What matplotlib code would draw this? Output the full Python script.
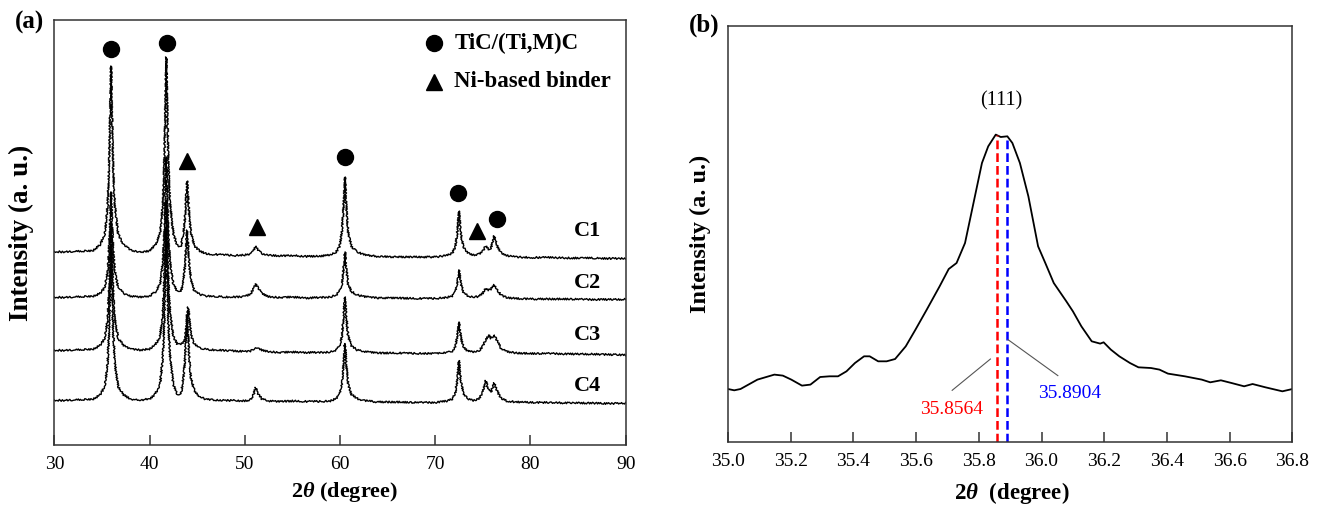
import matplotlib
matplotlib.use('Agg')
import matplotlib.pyplot as plt

plt.rcParams['font.family'] = 'Liberation Serif'
plt.rcParams['mathtext.fontset'] = 'custom'
plt.rcParams['mathtext.it'] = 'Liberation Serif:bold:italic'
plt.rcParams['mathtext.rm'] = 'Liberation Serif:bold'

# ---- panel (a): XRD patterns, shared 2theta grid
two_theta = [
    30, 31, 32, 33, 34,
    34.8, 35.3, 35.6, 35.74, 35.86, 35.96, 36.06, 36.18, 36.35, 36.7, 37.3,
    38, 39, 40,
    40.6, 41.1, 41.4, 41.54, 41.66, 41.76, 41.86, 41.98, 42.15, 42.5,
    42.9, 43.3, 43.55, 43.72, 43.84, 43.94, 44.06, 44.18, 44.35, 44.7, 45.3,
    46, 47, 48, 49, 50,
    50.6, 50.9, 51.15, 51.4, 51.8, 52.5,
    53.5, 55, 56.5, 58, 59,
    59.6, 59.95, 60.2, 60.38, 60.52, 60.66, 60.85, 61.2, 61.8, 62.5,
    64, 66, 68, 70,
    71.2, 71.8, 72.1, 72.3, 72.5, 72.7, 72.95, 73.4, 74,
    74.6, 75.0, 75.3, 75.6, 75.85, 76.2, 76.5, 76.9, 77.5,
    78.5, 80, 82, 84, 86, 88, 90,
]
c1 = [
    193.5, 193, 193.5, 194, 194,
    200, 211, 240, 277, 333, 379, 333, 277, 240, 211, 200,
    195, 193, 194,
    200, 211, 242, 281, 339, 388, 339, 281, 242, 211,
    200, 198, 212, 227, 247, 264, 247, 227, 212, 199, 194,
    191, 190.5, 190, 189.5, 190,
    191, 194, 199, 195, 191.5, 190,
    189, 189.5, 188.5, 189, 190,
    193, 198.5, 213, 240, 268, 240, 213, 198.5, 193, 190.5,
    188.5, 188, 188, 188,
    189.5, 192, 198, 211, 234, 211, 198, 192, 190,
    191, 194, 199, 195.5, 197, 209, 199, 192.5, 189.5,
    188, 187.5, 187.5, 187, 187, 186.5, 186.7,
]
c2 = [
    148, 147.5, 148, 148.5, 148.5,
    151.5, 157.5, 174, 195, 227, 253, 227, 195, 174, 157.5, 151.5,
    149, 148, 149,
    153, 160.5, 183, 211, 253, 288, 253, 211, 183, 160.5,
    154, 153, 165.5, 179, 199, 215, 199, 179, 165, 154, 150.5,
    149, 148.5, 148, 148, 148.5,
    151, 156, 161, 157, 151.5, 148.5,
    147.5, 148, 147, 147.5, 148,
    150, 153.5, 161, 177, 193, 177, 161, 153.5, 150, 148.5,
    147, 147, 146.5, 146.5,
    147.5, 149, 153, 161, 175, 161, 153, 149, 148,
    148.5, 152, 156.5, 155, 156, 160, 155, 150, 147.5,
    146.5, 146, 146, 146, 145.5, 145.5, 145.7,
]
c3 = [
    95, 94.5, 95, 95.5, 95.5,
    99.5, 106.5, 127, 152, 190, 222, 190, 152, 127, 106.5, 99.5,
    96, 95, 96,
    100, 108.5, 132.5, 162.5, 207.5, 245, 207.5, 162.5, 132.5, 108.5,
    101, 101, 103, 108, 115.5, 126.5, 138, 126.5, 110, 101, 97,
    95.5, 95, 94.5, 94, 93.5,
    94, 95.5, 96.5, 96.5, 95, 93.5,
    92.5, 93, 92.5, 92.5, 93,
    95, 99, 109, 128.5, 148, 128.5, 109, 99, 95, 93.5,
    92, 92, 91.5, 91.5,
    92.5, 94, 98.5, 107, 123, 107, 98.5, 94, 93,
    94, 99, 105, 110, 106.5, 110, 104, 97, 93.5,
    92, 91.5, 91.5, 91, 91, 90.5, 90,
]
c4 = [
    45, 44.5, 45, 45.5, 45.5,
    50, 58.5, 82.5, 112.5, 157.5, 195, 157.5, 112.5, 82.5, 58.5, 50,
    46, 45, 46,
    51, 60.5, 88.5, 121.5, 172.5, 215, 172.5, 121.5, 88.5, 60.5,
    51, 50.5, 67, 84.5, 109, 130, 109, 84.5, 67, 54.5, 48,
    45.5, 45, 44.5, 44.5, 44,
    45.5, 50, 57.5, 51, 46, 44,
    43.5, 44, 43.5, 43.5, 44,
    46.5, 50.5, 61, 81, 101.5, 81, 61, 50.5, 46.5, 44.5,
    43, 43, 42.5, 42.5,
    44, 46, 52, 63.5, 84.5, 63.5, 52, 46, 44.5,
    46, 53, 64.5, 55, 53, 62, 54, 47, 44,
    43, 42.5, 42.5, 42, 42, 41.5, 41.7,
]
sample_names = ['C1', 'C2', 'C3', 'C4']
label_y = [214, 162, 110, 59.5]

# phase markers above the peaks
tic_x = [35.95, 41.8, 60.53, 72.44, 76.45]
tic_y = [395.7, 402.5, 287.7, 252.3, 225.7]
ni_x = [43.97, 51.25, 74.42]
ni_y = [284.3, 217.7, 214]

# ---- panel (b): (111) peak
b_theta = [35.000, 35.020, 35.040, 35.094, 35.148, 35.175, 35.202, 35.236,
           35.263, 35.294, 35.324, 35.351, 35.378, 35.405, 35.434, 35.452,
           35.479, 35.506, 35.533, 35.567, 35.598, 35.634, 35.675, 35.704,
           35.729, 35.756, 35.783, 35.810, 35.830, 35.854, 35.870, 35.891,
           35.907, 35.931, 35.958, 35.989, 36.012, 36.039, 36.079, 36.100,
           36.127, 36.160, 36.187, 36.198, 36.221, 36.248, 36.282, 36.309,
           36.349, 36.376, 36.403, 36.457, 36.511, 36.538, 36.572, 36.606,
           36.646, 36.673, 36.714, 36.768, 36.800]
b_int = [53.3, 52, 53.3, 62.7, 67.7, 66.7, 62.7, 56.7,
         57.7, 65.3, 66, 66, 71, 79.3, 86, 86,
         81, 81, 83.3, 96, 112.7, 132.7, 156, 173.3,
         179.3, 199.3, 239.3, 279.3, 296, 307.7, 305.3, 306,
         299.3, 279.3, 246, 196, 179.3, 159.3, 141, 131,
         116, 101, 98.7, 100, 92.7, 86, 79.3, 75,
         74.3, 72.7, 68.7, 66, 62.7, 60, 62, 59.3,
         56, 58.3, 55, 51, 53.3]
peak_red = 35.8564
peak_blue = 35.8904

fig = plt.figure(figsize=(13.25, 5.08), dpi=100)
ax = fig.add_axes([0.0410, 0.1240, 0.4312, 0.8366])
ax2 = fig.add_axes([0.5494, 0.1293, 0.4260, 0.8195])

for a in (ax, ax2):
    for s in a.spines.values():
        s.set_color('#333333')
        s.set_linewidth(1.1)
    a.tick_params(axis='x', direction='in', length=7, width=1.1, color='#333333',
                  labelsize=14, pad=8)
    a.set_yticks([])

# (a)
for ys in (c1, c2, c3, c4):
    ln, = ax.plot(two_theta, ys, color='black', lw=1.0)
    ln.set_sketch_params(scale=0.9, length=2.5, randomness=2)
for name, yy in zip(sample_names, label_y):
    ax.text(85.94, yy, name, fontsize=16, fontweight='bold', ha='center', va='center')
ax.plot(tic_x, tic_y, 'o', color='black', ms=11.5, ls='none')
ax.plot(ni_x, ni_y, '^', color='black', ms=12, ls='none')
ax.plot([69.88], [401.7], 'o', color='black', ms=11.5)
ax.plot([69.88], [363.3], '^', color='black', ms=12)
ax.text(72.0, 401.7, 'TiC/(Ti,M)C', fontsize=16.5, fontweight='bold', va='center')
ax.text(72.0, 363.3, 'Ni-based binder', fontsize=16.5, fontweight='bold', va='center')
ax.set_xlim(30, 90)
ax.set_ylim(0, 425)
ax.set_xticks(range(30, 91, 10))
ax.set_xlabel(r'2$\theta$ (degree)', fontsize=16, fontweight='bold')
ax.xaxis.set_label_coords(0.508, -0.083)
ax.xaxis.label.set_va('top')
ax.set_ylabel('Intensity (a. u.)', fontsize=19.5, fontweight='bold')
ax.yaxis.set_label_coords(-0.036, 0.5)
fig.text(30 / 1325, 1 - 22 / 508, '(a)', fontsize=18, fontweight='bold',
         ha='center', va='center')

# (b)
ax2.plot(b_theta, b_int, color='black', lw=1.3)
ax2.plot([peak_red, peak_red], [0, 307.7], color='red', lw=1.8, ls=(0, (3.5, 1.6)))
ax2.plot([peak_blue, peak_blue], [0, 306], color='blue', lw=1.8, ls=(0, (3.5, 1.6)))
ax2.plot([35.837, 35.715], [83.3, 52], color='#555555', lw=0.8)
ax2.plot([35.893, 36.052], [102.7, 66.7], color='#555555', lw=0.8)
ax2.text(35.712, 33.3, '35.8564', color='red', fontsize=14, ha='center', va='center')
ax2.text(36.089, 49.3, '35.8904', color='blue', fontsize=14, ha='center', va='center')
ax2.text(35.870, 341, '(111)', fontsize=14.5, ha='center', va='center')
ax2.set_xlim(35.0, 36.8)
ax2.set_ylim(0, 416.3)
ax2.set_xticks([35.0, 35.2, 35.4, 35.6, 35.8, 36.0, 36.2, 36.4, 36.6, 36.8])
ax2.set_xticklabels(['35.0', '35.2', '35.4', '35.6', '35.8', '36.0', '36.2',
                     '36.4', '36.6', '36.8'])
ax2.set_xlabel(r'2$\theta$  (degree)', fontsize=16.5, fontweight='bold')
ax2.xaxis.set_label_coords(0.503, -0.09)
ax2.xaxis.label.set_va('top')
ax2.set_ylabel('Intensity (a. u.)', fontsize=17.5, fontweight='bold')
ax2.yaxis.set_label_coords(-0.030, 0.5)
fig.text(704 / 1325, 1 - 25 / 508, '(b)', fontsize=18, fontweight='bold',
         ha='center', va='center')

fig.savefig('out.png', dpi=100)
